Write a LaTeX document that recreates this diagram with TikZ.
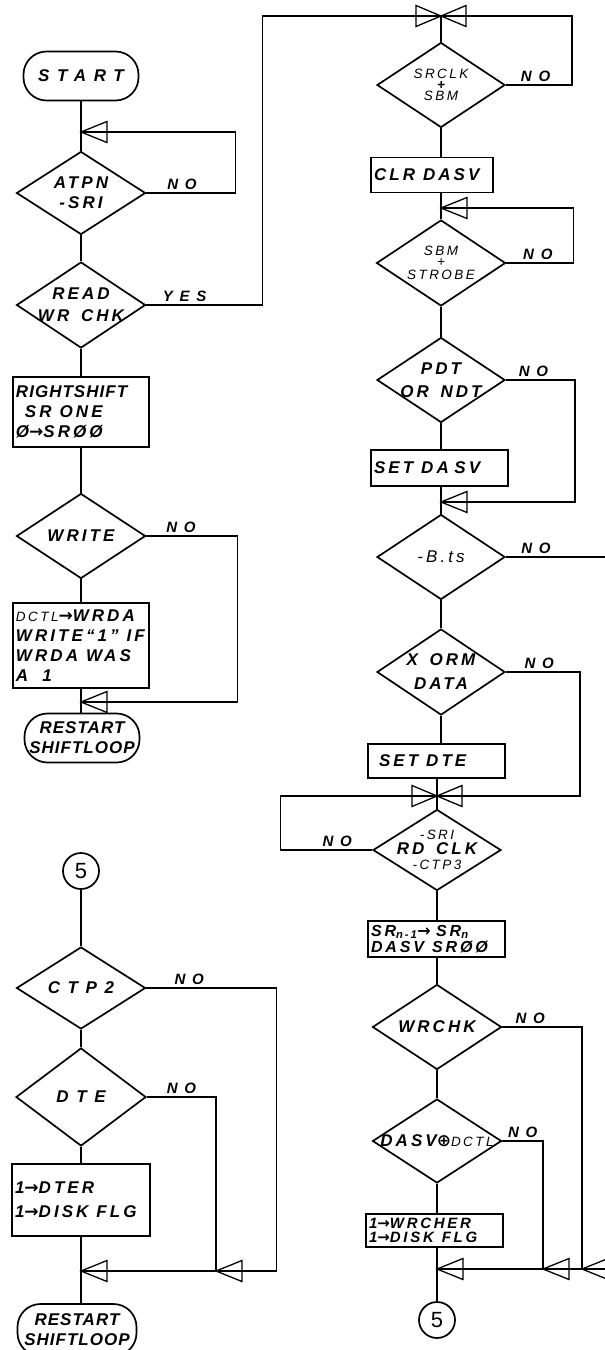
\documentclass[tikz,border=0pt]{standalone}
\usepackage{fontspec}
\setmainfont{Liberation Sans}[LetterSpace=18, WordSpace=1.5]
\newfontfamily\djv{DejaVu Sans}
\usetikzlibrary{shapes.geometric}
\newcommand\hw{\fontsize{17}{20}\selectfont\itshape\bfseries}
\newcommand\hwm{\fontsize{15}{16}\selectfont\itshape\bfseries}
\newcommand\hws{\fontsize{13.5}{12}\selectfont\itshape\mdseries}
\newcommand\rarr{{\djv\upshape\bfseries →}}
\newcommand\xorsym{{\djv\upshape\bfseries ⊕}}
\newcommand\wide[1]{{\addfontfeature{LetterSpace=45}#1}}
\newcommand\tight[1]{{\addfontfeature{LetterSpace=6}#1}}
\newcommand\gap{\hspace{8pt}}
\tikzset{
  shp/.style={draw, line width=1.7pt},
  dia/.style={shp, diamond, minimum width=129pt, minimum height=85pt, inner sep=0pt},
  box/.style={shp, rectangle, inner xsep=3pt, inner ysep=2pt, align=left, font=\hw},
  term/.style={shp, rectangle, rounded corners=23pt, minimum width=115pt, minimum height=49pt, inner sep=0pt},
  conn/.style={line width=1.3pt},
  nolbl/.style={font=\hwm, above, inner sep=2.5pt},
  every label/.style={align=center, inner sep=0pt},
  conn5/.style={shp, circle, minimum size=36pt, inner sep=0pt, font=\fontsize{22}{22}\selectfont},
  mergeL/.pic={\draw[line width=1.3pt] (0,0) -- (26,-10.5) -- (26,10.5) -- cycle;},
  bowtie/.pic={\draw[line width=1.3pt] (0,0) -- (-25,-10.5) -- (-25,10.5) -- cycle (0,0) -- (25,-10.5) -- (25,10.5) -- cycle;},
}
\begin{document}
\begin{tikzpicture}[x=1pt,y=-1pt]
\fill[white] (0,0) rectangle (605,1350);
\useasboundingbox (0,0) rectangle (605,1350);

% ---------------- left column, top ----------------
\node[term, font=\hw] (start) at (81,76) {\wide{START}};
\coordinate (j1) at (81,132);
\node[dia, minimum height=83pt, label={[font=\hw]center:ATPN\\-SRI}] (d1) at (81,193) {};
\node[dia, minimum height=86pt, label={[font=\hw]center:READ\\[2pt]WR CHK}] (d2) at (81,305) {};
\node[box, text width=130pt, minimum height=70pt] (b1) at (81,412)
  {\tight{RIGHTSHIFT}\\\hspace*{9pt}SR\gap ONE\\Ø\rarr SRØØ};
\node[dia, minimum height=85pt, label={[font=\hw]center:WRITE}] (d3) at (81,536) {};
\node[box, text width=130pt, minimum height=85pt] (b2) at (81,645.5)
  {{\hws DCTL}\rarr WRDA\\WRITE“1”\gap IF\\WRDA\gap WAS\\A\hspace{14pt}1};
\coordinate (j2) at (81,702);
\node[term, label={[font=\hw, align=center]center:\tight{RESTART}\\\tight{SHIFTLOOP}}] (r1) at (82,738) {};

\draw[conn] (start) -- (d1);
\draw[conn] (d1) -- (d2);
\draw[conn] (d2) -- (b1);
\draw[conn] (b1) -- (d3);
\draw[conn] (d3) -- (b2);
\draw[conn] (b2.south) -- (j2) -- (j2 |- r1.north);
\draw[conn] (d1.east) -- node[nolbl, pos=.4] {\wide{NO}} ++(89,0) |- (j1);
\draw[conn] (d3.east) -- node[nolbl, pos=.38] {\wide{NO}} ++(91,0) |- (j2);
\pic at (j1) {mergeL};
\pic at (j2) {mergeL};

% ---------------- right column ----------------
\coordinate (t1) at (441,16);
\node[dia, minimum width=128pt, label={[font=\hws]center:SRCLK\\[-1pt]{\bfseries +}\\[-1pt]SBM}] (d6) at (441,85) {};
\node[box, text width=116pt, minimum height=35pt] (b4) at (432,175) {CLR\gap DASV};
\coordinate (j5) at (441,208);
\node[dia, minimum height=86pt, label={[font=\fontsize{13.5}{13}\selectfont\itshape]center:SBM\\[-2pt]+\\STROBE}] (d7) at (441,263) {};
\node[dia, minimum width=128pt, label={[font=\hw]center:PDT\\[3pt]OR NDT}] (d8) at (441,380) {};
\node[box, text width=131pt, minimum height=36pt] (b5) at (439.5,468) {SET\gap DA SV};
\coordinate (j6) at (441,502);
\node[dia, minimum width=128pt, label={[font=\fontsize{17}{17}\selectfont\itshape\mdseries]center:-B.ts}] (d9) at (441,557) {};
\coordinate (off1) at (606,557);
\node[dia, minimum width=128pt, minimum height=86pt, label={[font=\hw]center:X ORM\\[4pt]DATA}] (d10) at (441,672) {};
\node[box, text width=131pt, minimum height=34pt] (b6) at (436.5,761) {\hspace*{8pt}SET\gap DTE};
\coordinate (t2) at (437,796);
\node[dia, minimum width=128pt, minimum height=81pt,
  label={[font=\hw]center:{\hws -SRI}\\[-5pt]RD CLK\\[-5pt]{\hws -CTP3}}] (d11) at (437,850) {};
\node[box, text width=131pt, minimum height=36pt, font=\fontsize{16}{16}\selectfont\itshape\bfseries] (b7) at (436.5,939)
  {SR\textsubscript{n-1}\rarr\ SR\textsubscript{n}\\DASV\gap SRØØ};
\node[dia, label={[font=\hw]center:WRCHK}] (d12) at (437,1027) {};
\node[dia, minimum height=84pt, label={[font=\hw]center:DASV\xorsym{\hws DCTL}}] (d13) at (437,1141) {};
\node[box, text width=131pt, minimum height=33pt, font=\fontsize{15}{14}\selectfont\itshape\bfseries] (b8) at (434.5,1230.5)
  {1\rarr WRCHER\\1\rarr DISK\gap FLG};
\coordinate (j7) at (437,1269);
\coordinate (j8) at (543,1269);
\coordinate (j9) at (582,1269);
\coordinate (off2) at (608,1269);
\node[conn5] (c5b) at (437,1320) {5};

\draw[conn] (t1) -- (d6);
\draw[conn] (d6.south) -- (d6.south |- b4.north);
\draw[conn] (d6.south |- b4.south) -- (j5) -- (d7);
\draw[conn] (d7) -- (d8);
\draw[conn] (d8.south) -- (d8.south |- b5.north);
\draw[conn] (d8.south |- b5.south) -- (j6) -- (d9);
\draw[conn] (d9) -- (d10);
\draw[conn] (d10.south) -- (d10.south |- b6.north);
\draw[conn] (t2 |- b6.south) -- (t2) -- (d11);
\draw[conn] (d11.south) -- (d11.south |- b7.north);
\draw[conn] (d11.south |- b7.south) -- (d12);
\draw[conn] (d12) -- (d13);
\draw[conn] (d13.south) -- (d13.south |- b8.north);
\draw[conn] (j7 |- b8.south) -- (j7) -- (c5b);

\draw[conn] (d2.east) -- node[nolbl, pos=.33] {\wide{YES}} ++(116,0) |- (t1);
\draw[conn] (d6.east) -- node[nolbl, pos=.45] {\wide{NO}} ++(66,0) |- (t1);
\draw[conn] (d7.east) -- node[nolbl, pos=.47] {\wide{NO}} ++(67,0) |- (j5);
\draw[conn] (d8.east) -- node[nolbl, pos=.4] {\wide{NO}} ++(69,0) |- (j6);
\draw[conn] (d9.east) -- node[nolbl, pos=.3] {\wide{NO}} (off1);
\draw[conn] (d10.east) -- node[nolbl, pos=.45] {\wide{NO}} ++(74,0) |- (t2);
\draw[conn] (d11.west) -- node[nolbl, pos=.38] {\wide{NO}} ++(-92,0) |- (t2);
\draw[conn] (d12.east) -- node[nolbl, pos=.35] {\wide{NO}} (d12.east -| j9) -- (j9);
\draw[conn] (d13.east) -- node[nolbl, pos=.5] {\wide{NO}} (d13.east -| j8) -- (j8);
\draw[conn] (off2) -- (j7);
\pic at (t1) {bowtie};
\pic at (j5) {mergeL};
\pic at (j6) {mergeL};
\pic at (t2) {bowtie};
\pic at (j7) {mergeL};
\pic at (j8) {mergeL};
\pic at (j9) {mergeL};

% ---------------- left column, bottom ----------------
\node[conn5] (c5a) at (81,871) {5};
\node[dia, minimum height=82pt, label={[font=\hw]center:\wide{CTP2}}] (d4) at (81,988) {};
\node[dia, minimum width=130pt, minimum height=98pt, label={[font=\hw]center:\wide{DTE}}] (d5) at (81,1097) {};
\node[box, text width=132pt, minimum height=72pt, font=\fontsize{17}{24}\selectfont\itshape\bfseries] (b3) at (81,1200)
  {1\rarr DTER\\1\rarr DISK\gap FLG};
\coordinate (j3) at (81,1271);
\coordinate (j4) at (216,1271);
\node[term, minimum width=119pt, minimum height=52pt, label={[font=\hw, align=center]center:\tight{RESTART}\\\tight{SHIFTLOOP}}] (r2) at (77,1330) {};

\draw[conn] (c5a) -- (d4);
\draw[conn] (d4) -- (d5);
\draw[conn] (d5) -- (b3);
\draw[conn] (b3.south) -- (j3) -- (j3 |- r2.north);
\draw[conn] (d4.east) -- node[nolbl, pos=.33] {\wide{NO}} ++(130,0) |- (j4);
\draw[conn] (d5.east) -- node[nolbl, pos=.5] {\wide{NO}} (d5.east -| j4) -- (j4);
\draw[conn] (j4) -- (j3);
\pic at (j3) {mergeL};
\pic at (j4) {mergeL};
\end{tikzpicture}
\end{document}
